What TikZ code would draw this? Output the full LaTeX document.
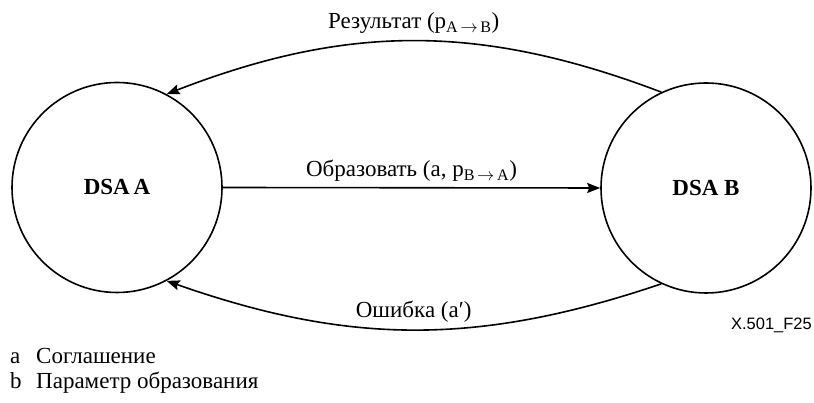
\documentclass[tikz,border=0pt]{standalone}
\usepackage{fontspec}
\setmainfont{Liberation Serif}
\newfontfamily\figfont{Liberation Sans}
\usetikzlibrary{arrows.meta,positioning}

\begin{document}
\begin{tikzpicture}[
    x=1pt, y=1pt,
    font=\fontsize{23}{27}\selectfont,
    dsa/.style={circle, draw, line width=1.6pt, minimum size=210pt, inner sep=0pt, font=\fontsize{23}{27}\selectfont\bfseries},
    arrow/.style={-{Stealth[length=13pt,width=10pt,inset=2pt]}, line width=1.6pt},
    note/.style={anchor=base west, inner sep=0pt}
]
\useasboundingbox (0,0) rectangle (814,403);

% Nodes
\node (dsaA) [dsa] at (117,215.5) {DSA\,A};
\node (dsaB) [dsa] at (706,215) {DSA B};

% Arrows
\draw [arrow] (dsaB.115) to[bend right=21]
    node (result) [midway, above=3pt] {Результат (p\textsubscript{A\,$\rightarrow$\,B})} (dsaA.62);
\draw [arrow] (dsaA.east) --
    node (create) [midway, above=2pt] {Образовать (a, p\textsubscript{B\,$\rightarrow$\,A})} (dsaB.west);
\draw [arrow] (dsaB.245) to[bend left=19]
    node (error) [midway, above=3pt] {Ошибка (a′)} (dsaA.298);

% Labels
\node (figid) [anchor=base east, inner sep=0pt, font=\figfont\fontsize{16.5}{19}\selectfont] at (812,73) {X.501\_F25};
\node (keya) [note] at (10,39) {a};
\node (texta) [note] at (36,39) {Соглашение};
\node (keyb) [note] at (10,14) {b};
\node (textb) [note] at (36,14) {Параметр образования};

\end{tikzpicture}
\end{document}
